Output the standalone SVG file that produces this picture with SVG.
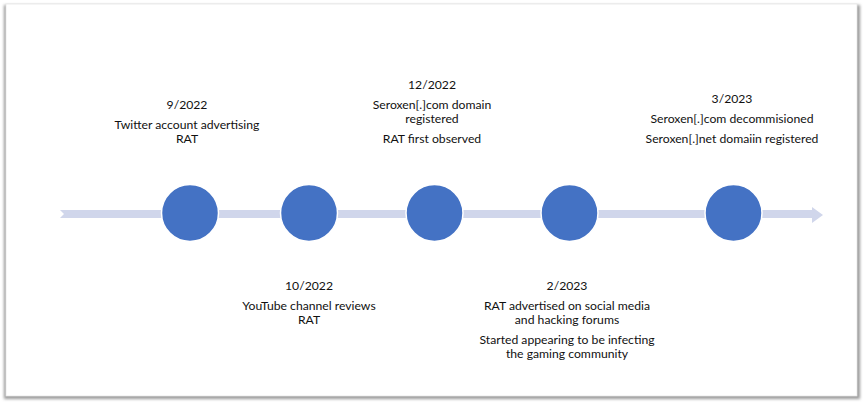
<svg xmlns="http://www.w3.org/2000/svg" width="865" height="405" viewBox="0 0 865 405">
<defs>
<filter id="sh" x="-5%" y="-5%" width="110%" height="110%"><feGaussianBlur stdDeviation="1.5"/></filter>
<style>
.t{font-family:Lato,"Open Sans","Liberation Sans",sans-serif;font-size:12.2px;fill:#111111;text-anchor:middle}
.n{fill:#4472C4;stroke:#ffffff;stroke-width:1.5}
.band{fill:#D0D6EB}
</style>
</defs>
<rect width="865" height="405" fill="#ffffff"/>
<rect x="4" y="5" width="856" height="394" fill="#9a9a9a" filter="url(#sh)"/>
<rect x="6" y="4" width="851" height="392" fill="#ffffff" stroke="#e6e6e6" stroke-width="0.8"/>
<g id="connectors">
<path class="band" d="M60,210 L812,210 L812,207 L823,215 L812,223 L812,218 L60,218 L64,214 Z"/>
</g>
<g id="n1"><circle class="n" cx="190" cy="213" r="28.5"/>
<text class="t" x="187" y="109">9/2022</text>
<text class="t" x="187" y="129">Twitter account advertising</text>
<text class="t" x="187" y="143">RAT</text></g>
<g id="n2"><circle class="n" cx="309" cy="213" r="28.5"/>
<text class="t" x="309" y="290">10/2022</text>
<text class="t" x="309" y="310">YouTube channel reviews</text>
<text class="t" x="309" y="324">RAT</text></g>
<g id="n3"><circle class="n" cx="434.5" cy="213" r="28.5"/>
<text class="t" x="432" y="89">12/2022</text>
<text class="t" x="432" y="109">Seroxen[.]com domain</text>
<text class="t" x="432" y="123">registered</text>
<text class="t" x="432" y="143">RAT first observed</text></g>
<g id="n4"><circle class="n" cx="569.5" cy="213" r="28.5"/>
<text class="t" x="567" y="290">2/2023</text>
<text class="t" x="567" y="310">RAT advertised on social media</text>
<text class="t" x="567" y="324">and hacking forums</text>
<text class="t" x="567" y="344">Started appearing to be infecting</text>
<text class="t" x="567" y="358">the gaming community</text></g>
<g id="n5"><circle class="n" cx="733.5" cy="213" r="28.5"/>
<text class="t" x="732" y="103">3/2023</text>
<text class="t" x="732" y="123">Seroxen[.]com decommisioned</text>
<text class="t" x="732" y="143">Seroxen[.]net domaiin registered</text></g>
</svg>
